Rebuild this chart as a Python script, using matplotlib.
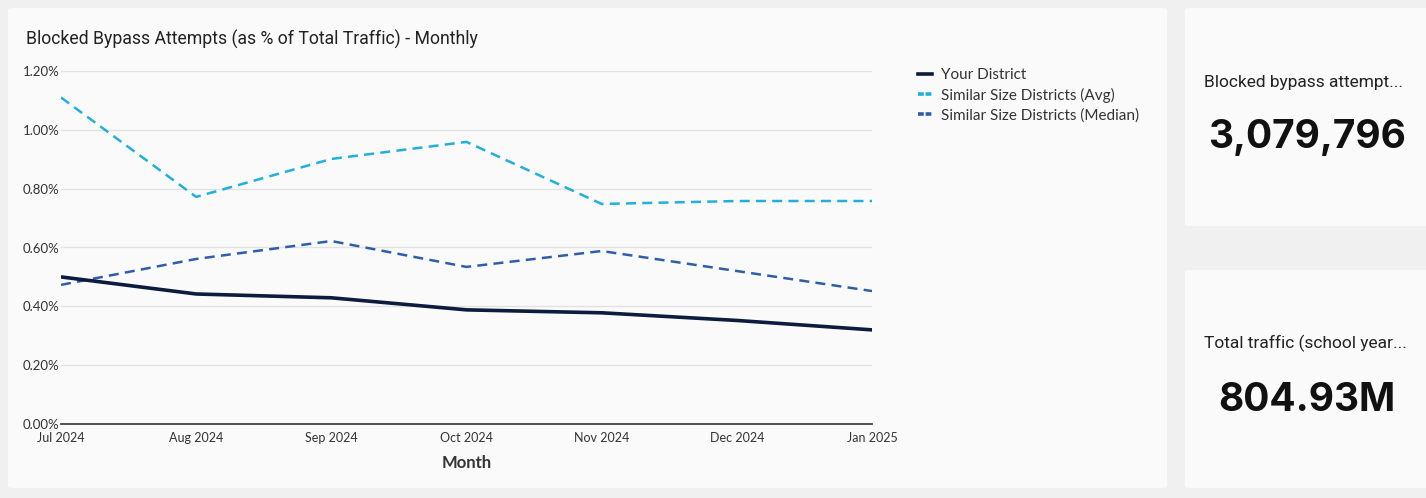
"""Blocked bypass attempts dashboard panel."""

import matplotlib

matplotlib.use("Agg")

import matplotlib.pyplot as plt
from matplotlib.lines import Line2D
from matplotlib.patches import FancyBboxPatch
from matplotlib.ticker import FuncFormatter

months = ["Jul 2024", "Aug 2024", "Sep 2024", "Oct 2024", "Nov 2024", "Dec 2024", "Jan 2025"]
your_district = [0.50, 0.442, 0.429, 0.388, 0.378, 0.352, 0.320]
similar_avg = [1.11, 0.772, 0.901, 0.959, 0.748, 0.758, 0.758]
similar_median = [0.473, 0.561, 0.622, 0.534, 0.588, 0.520, 0.452]
y_ticks = [0.0, 0.2, 0.4, 0.6, 0.8, 1.0, 1.2]
series_names = ["Your District", "Similar Size Districts (Avg)", "Similar Size Districts (Median)"]

kpi_labels = ["Blocked bypass attempt...", "Total traffic (school year..."]
kpi_values = ["3,079,796", "804.93M"]

NAVY, CYAN, BLUE = "#0d1b3e", "#1fb0dc", "#2f5ea8"

W, H = 1426, 498
fig = plt.figure(figsize=(W / 100, H / 100), dpi=100)
fig.patch.set_facecolor("#f0f0f0")


def card(x0, y0, x1, y1):
    # pixel coords, top-left origin
    fig.patches.append(FancyBboxPatch(
        (x0 / W, 1 - y1 / H), (x1 - x0) / W, (y1 - y0) / H,
        boxstyle="round,pad=0,rounding_size=0.004", transform=fig.transFigure,
        facecolor="#fafafa", edgecolor="none", zorder=-5))


card(8, 8, 1167, 488)
card(1185, 8, 1440, 226)
card(1185, 270, 1440, 488)

ax = fig.add_axes([61 / W, 1 - 424 / H, (872 - 61) / W, (424 - 71) / H])
ax.set_facecolor("none")
x = list(range(len(months)))
ax.plot(x, your_district, color=NAVY, lw=2.6, zorder=4)
ax.plot(x, similar_avg, color=CYAN, lw=1.8, ls=(0, (4, 2.5)), zorder=3)
ax.plot(x, similar_median, color=BLUE, lw=1.8, ls=(0, (4, 2.5)), zorder=3)

ax.set_xlim(0, len(months) - 1)
ax.set_ylim(0, 1.2)
ax.set_yticks(y_ticks)
ax.yaxis.set_major_formatter(FuncFormatter(lambda v, _: f"{v:.2f}%"))
ax.set_xticks(x)
ax.set_xticklabels(months)
ax.grid(axis="y", color="#e2e2e2", lw=1)
ax.set_axisbelow(True)
for s in ["top", "right", "left"]:
    ax.spines[s].set_visible(False)
ax.spines["bottom"].set_color("#444444")
ax.spines["bottom"].set_linewidth(1.3)
ax.tick_params(axis="y", length=0, pad=1, labelsize=9.5, labelcolor="#333333")
ax.tick_params(axis="x", length=0, pad=6, labelsize=9, labelcolor="#333333")
for lab in ax.get_xticklabels() + ax.get_yticklabels():
    lab.set_family("Lato")
ax.set_xlabel("Month", family="Lato", fontsize=12, fontweight="bold", color="#333333", labelpad=8)

handles = [
    Line2D([], [], color=NAVY, lw=2.6),
    Line2D([], [], color=CYAN, lw=2.6, ls=(0, (1.6, 0.5))),
    Line2D([], [], color=BLUE, lw=2.6, ls=(0, (1.6, 0.5))),
]
leg = ax.legend(handles, series_names, loc="upper left",
                bbox_to_anchor=((918 - 61) / (872 - 61), 1 + 3 / 353), frameon=False,
                prop={"family": "Lato", "size": 11}, handlelength=0.92, handletextpad=0.6,
                labelspacing=0.36, borderaxespad=0, borderpad=0)
for t in leg.get_texts():
    t.set_color("#333333")

fig.text(26 / W, 1 - 39 / H, "Blocked Bypass Attempts (as % of Total Traffic) - Monthly",
         family="Roboto", fontsize=12.7, color="#222222", va="center", ha="left")

fig.text(1204 / W, 1 - 82 / H, kpi_labels[0], family="Roboto", fontsize=12.5, color="#222222", va="center")
fig.text(1307 / W, 1 - 137 / H, kpi_values[0], family="Inter", fontsize=28, fontweight="bold",
         color="#111111", va="center", ha="center")
fig.text(1204 / W, 1 - 343 / H, kpi_labels[1], family="Roboto", fontsize=12.5, color="#222222", va="center")
fig.text(1307 / W, 1 - 400 / H, kpi_values[1], family="Inter", fontsize=28, fontweight="bold",
         color="#111111", va="center", ha="center")

fig.savefig("out.png", dpi=100, facecolor=fig.get_facecolor())
